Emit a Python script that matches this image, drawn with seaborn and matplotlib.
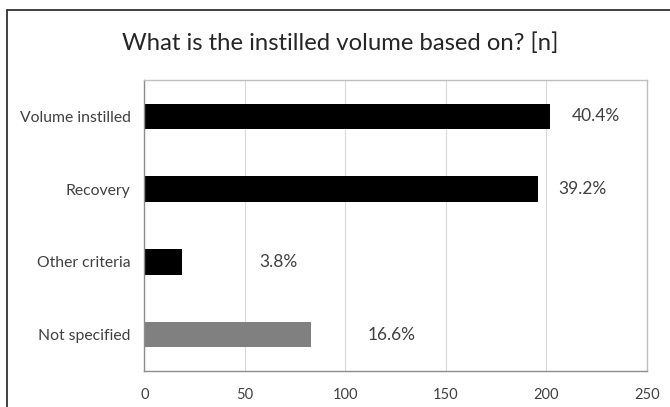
import matplotlib
matplotlib.use("Agg")
import matplotlib.pyplot as plt
import seaborn as sns
import pandas as pd
from matplotlib.lines import Line2D

# Data
categories = ["Volume instilled", "Recovery", "Other criteria", "Not specified"]
counts = [202, 196, 19, 83]
pct_labels = ["40.4%", "39.2%", "3.8%", "16.6%"]
bar_colors = ["#000000", "#000000", "#000000", "#808080"]
x_ticks = [0, 50, 100, 150, 200, 250]
title = "What is the instilled volume based on? [n]"

sns.set_theme(style="white")
plt.rcParams["font.family"] = ["Lato", "DejaVu Sans"]

W, H = 670, 407
fig = plt.figure(figsize=(W / 100, H / 100), dpi=100)
ax_l, ax_r, ax_t, ax_b = 144.3, 646.7, 80, 371
ax = fig.add_axes([ax_l / W, 1 - ax_b / H, (ax_r - ax_l) / W, (ax_b - ax_t) / H])

df = pd.DataFrame({"category": categories, "count": counts})
sns.barplot(data=df, y="category", x="count", hue="category",
            palette=dict(zip(categories, bar_colors)), order=categories,
            orient="h", width=0.35, legend=False, ax=ax, saturation=1,
            edgecolor="none")

ax.set_xlim(0, 250)
ax.set_ylim(len(categories) - 0.5, -0.5)
ax.set_xticks(x_ticks)
ax.set_xticklabels([str(t) for t in x_ticks])
ax.set_xlabel("")
ax.set_ylabel("")
ax.xaxis.grid(True, color="#d9d9d9", linewidth=0.8)
ax.yaxis.grid(False)
ax.set_axisbelow(True)
ax.tick_params(axis="both", length=0, labelcolor="#404040")
ax.tick_params(axis="y", pad=10, labelsize=11.3)
ax.tick_params(axis="x", pad=12, labelsize=10.5)

for side in ["left", "bottom"]:
    ax.spines[side].set_color("#8c8c8c")
    ax.spines[side].set_linewidth(1.0)
for side in ["top", "right"]:
    ax.spines[side].set_color("#bfbfbf")
    ax.spines[side].set_linewidth(1.0)

label_offsets_px = [46, 44, 96, 81]
for i, (v, lab) in enumerate(zip(counts, pct_labels)):
    ax.annotate(lab, xy=(v, i), xytext=(label_offsets_px[i], 0),
                textcoords="offset pixels", ha="center", va="center",
                fontsize=12.5, color="#404040")

fig.text(340 / W, 1 - 43 / H, title, ha="center", va="center",
         fontsize=17.2, color="#262626")

# Outer chart frame (left and top edges visible)
fig.add_artist(Line2D([6.5 / W, 6.5 / W], [0, 1 - 10 / H], transform=fig.transFigure,
                      color="#333333", linewidth=1.3))
fig.add_artist(Line2D([6.5 / W, 1], [1 - 10 / H, 1 - 10 / H], transform=fig.transFigure,
                      color="#333333", linewidth=1.3))

fig.savefig("out.png", dpi=100, facecolor="white")
